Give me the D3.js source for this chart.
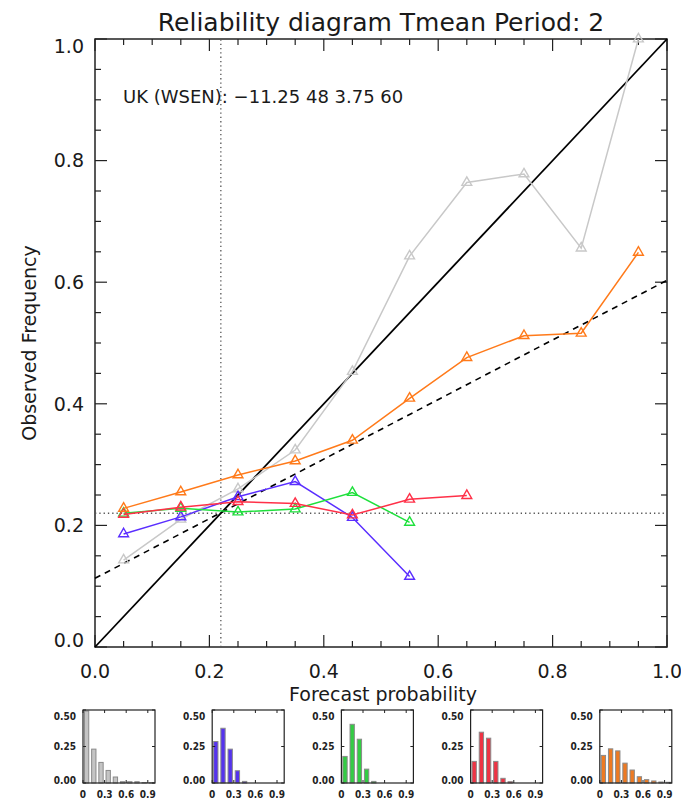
<!DOCTYPE html>
<html>
<head>
<meta charset="utf-8">
<script src="https://cdn.jsdelivr.net/npm/d3@7"></script>
<style>
  body { margin: 0; background: #fff; }
  svg { display: block; }
  text { font-family: "DejaVu Sans", sans-serif; fill: #1a1a1a; }
  .hlab { font-family: "DejaVu Sans Condensed", "DejaVu Sans", sans-serif; font-stretch: condensed; font-weight: bold; fill: #222; }
</style>
</head>
<body>
<svg id="chart" width="681" height="799"></svg>
<script>
// forecast probability bins (bin centres)
const probBins = [0.05, 0.15, 0.25, 0.35, 0.45, 0.55, 0.65, 0.75, 0.85, 0.95];

// observed frequency per bin, one array per curve
const greyObs = [0.143, 0.21, 0.26, 0.324, 0.453, 0.643, 0.764, 0.778, 0.656, 1.0];
const blueObs = [0.186, 0.214, 0.247, 0.272, 0.213, 0.116];
const greenObs = [0.22, 0.228, 0.222, 0.227, 0.254, 0.205];
const redObs = [0.218, 0.23, 0.239, 0.236, 0.217, 0.243, 0.249];
const orangeObs = [0.228, 0.255, 0.283, 0.306, 0.34, 0.409, 0.476, 0.512, 0.516, 0.649];

// sharpness histograms (relative frequency of forecasts per bin)
const greyHist = [0.493, 0.232, 0.141, 0.086, 0.041, 0.009, 0.009, 0.009, 0.003, 0.002];
const blueHist = [0.284, 0.375, 0.232, 0.084, 0.011, 0, 0, 0, 0, 0];
const greenHist = [0.182, 0.402, 0.3, 0.095, 0.011, 0, 0, 0, 0, 0];
const redHist = [0.148, 0.348, 0.307, 0.148, 0.032, 0.009, 0, 0, 0, 0];
const orangeHist = [0.189, 0.234, 0.22, 0.136, 0.089, 0.043, 0.023, 0.014, 0.007, 0.005];

const climatology = 0.22;
const perfectLine = [[0, 0], [1, 1]];
const fitLine = [[0, 0.113], [1, 0.603]];

const mainTicks = [0, 0.2, 0.4, 0.6, 0.8, 1.0];
const histXTicks = [0, 0.3, 0.6, 0.9];
const histYTicks = [0, 0.25, 0.5];

const titleText = "Reliability diagram Tmean Period: 2";
const regionText = "UK (WSEN): \u221211.25 48 3.75 60";

const series = [
  { obs: greyObs, hist: greyHist, line: "#c8c8c8", fill: "#c4c4c4" },
  { obs: blueObs, hist: blueHist, line: "#5a2eff", fill: "#5533ee" },
  { obs: greenObs, hist: greenHist, line: "#1ee03c", fill: "#33cc44" },
  { obs: redObs, hist: redHist, line: "#ff3048", fill: "#ee3344" },
  { obs: orangeObs, hist: orangeHist, line: "#ff7a1a", fill: "#ee7a22" }
];

const svg = d3.select("#chart");

// main plot box
const px0 = 95, px1 = 667, pyTop = 39, pyBot = 647;
const x = d3.scaleLinear().domain([0, 1]).range([px0, px1]);
const y = d3.scaleLinear().domain([0, 1]).range([pyBot, pyTop]);

const g = svg.append("g");

// title + region
svg.append("text")
  .attr("x", (px0 + px1) / 2).attr("y", 31)
  .attr("text-anchor", "middle")
  .attr("font-size", "25px")
  .text(titleText);

g.append("text")
  .attr("x", 123).attr("y", 103)
  .attr("font-size", "18px")
  .text(regionText);

// box
g.append("rect")
  .attr("x", px0).attr("y", pyTop)
  .attr("width", px1 - px0).attr("height", pyBot - pyTop)
  .attr("fill", "none").attr("stroke", "#222").attr("stroke-width", 1.5);

// ticks on all four sides, minor every 0.05
const allTicks = d3.range(0, 1.0001, 0.05);
const isMajor = (t) => Math.abs(t * 5 - Math.round(t * 5)) < 1e-6;
const tickLen = (t) => (isMajor(t) ? 12 : 6);
const tk = g.append("g").attr("stroke", "#222").attr("stroke-width", 1.2);
allTicks.forEach((t) => {
  tk.append("line").attr("x1", x(t)).attr("x2", x(t)).attr("y1", pyBot).attr("y2", pyBot - tickLen(t));
  tk.append("line").attr("x1", x(t)).attr("x2", x(t)).attr("y1", pyTop).attr("y2", pyTop + tickLen(t));
  tk.append("line").attr("y1", y(t)).attr("y2", y(t)).attr("x1", px0).attr("x2", px0 + tickLen(t));
  tk.append("line").attr("y1", y(t)).attr("y2", y(t)).attr("x1", px1).attr("x2", px1 - tickLen(t));
});

// tick labels
g.selectAll(".xlab").data(mainTicks).enter().append("text")
  .attr("class", "xlab")
  .attr("x", (d) => x(d)).attr("y", 678)
  .attr("text-anchor", "middle").attr("font-size", "19px")
  .text((d) => d3.format(".1f")(d));

g.selectAll(".ylab").data(mainTicks).enter().append("text")
  .attr("class", "ylab")
  .attr("x", 84)
  .attr("y", (d) => Math.max(pyTop + 7, Math.min(pyBot - 7, y(d))))
  .attr("dy", "0.36em")
  .attr("text-anchor", "end").attr("font-size", "19px")
  .text((d) => d3.format(".1f")(d));

// axis titles
g.append("text")
  .attr("x", (px0 + px1) / 2 + 2).attr("y", 701)
  .attr("text-anchor", "middle").attr("font-size", "19px")
  .text("Forecast probability");

g.append("text")
  .attr("transform", `translate(36,${(pyTop + pyBot) / 2}) rotate(-90)`)
  .attr("text-anchor", "middle").attr("font-size", "19px")
  .text("Observed Frequency");

// climatology dotted lines
g.append("line")
  .attr("x1", x(climatology)).attr("x2", x(climatology))
  .attr("y1", pyBot).attr("y2", pyTop)
  .attr("stroke", "#555").attr("stroke-width", 1.3).attr("stroke-dasharray", "1.3,3");
g.append("line")
  .attr("x1", px0).attr("x2", px1)
  .attr("y1", y(climatology)).attr("y2", y(climatology))
  .attr("stroke", "#555").attr("stroke-width", 1.3).attr("stroke-dasharray", "1.3,3");

const line = d3.line().x((d) => x(d[0])).y((d) => y(d[1]));

// perfect reliability + fitted line
g.append("path").attr("d", line(perfectLine))
  .attr("fill", "none").attr("stroke", "#000").attr("stroke-width", 1.8);
g.append("path").attr("d", line(fitLine))
  .attr("fill", "none").attr("stroke", "#000").attr("stroke-width", 1.6)
  .attr("stroke-dasharray", "6,5");

// reliability curves
const tri = d3.symbol().type(d3.symbolTriangle).size(42);
series.forEach((s) => {
  const pts = s.obs.map((v, i) => [probBins[i], v]);
  g.append("path").attr("d", line(pts))
    .attr("fill", "none").attr("stroke", s.line).attr("stroke-width", 1.5);
  g.append("g").selectAll("path").data(pts).enter().append("path")
    .attr("d", tri)
    .attr("transform", (d) => `translate(${x(d[0])},${y(d[1])})`)
    .attr("fill", "none").attr("stroke", s.line).attr("stroke-width", 1.4);
});

// sharpness histograms
const hTop = 710, hBot = 783, hW = 72;
const hy = d3.scaleLinear().domain([0, 0.5]).range([hBot, hTop]);
series.forEach((s, k) => {
  const left = 83 + k * 129.2;
  const hx = d3.scaleLinear().domain([0, 1]).range([left, left + hW]);
  const hg = svg.append("g");
  const bw = hx(0.06) - hx(0);
  hg.selectAll("rect").data(s.hist.map((v, i) => [probBins[i], v]).filter((d) => d[1] > 0))
    .enter().append("rect")
    .attr("x", (d) => hx(d[0]) - bw / 2).attr("width", bw)
    .attr("y", (d) => hy(d[1])).attr("height", (d) => hBot - hy(d[1]))
    .attr("fill", s.fill).attr("stroke", "#8a8a8a").attr("stroke-width", 1);
  hg.append("rect")
    .attr("x", left).attr("y", hTop).attr("width", hW).attr("height", hBot - hTop)
    .attr("fill", "none").attr("stroke", "#222").attr("stroke-width", 1.2);
  histXTicks.forEach((t) => {
    hg.append("line").attr("x1", hx(t)).attr("x2", hx(t)).attr("y1", hBot).attr("y2", hBot - 3).attr("stroke", "#222");
    hg.append("line").attr("x1", hx(t)).attr("x2", hx(t)).attr("y1", hTop).attr("y2", hTop + 3).attr("stroke", "#222");
  });
  histYTicks.forEach((t) => {
    hg.append("line").attr("y1", hy(t)).attr("y2", hy(t)).attr("x1", left).attr("x2", left + 3).attr("stroke", "#222");
    hg.append("line").attr("y1", hy(t)).attr("y2", hy(t)).attr("x1", left + hW).attr("x2", left + hW - 3).attr("stroke", "#222");
  });
  hg.selectAll(".hyl").data(histYTicks).enter().append("text")
    .attr("class", "hlab")
    .attr("x", left - 7)
    .attr("y", (d) => Math.max(hTop + 6, Math.min(hBot - 3, hy(d))))
    .attr("dy", "0.36em")
    .attr("text-anchor", "end").attr("font-size", "10px")
    .text((d) => d3.format(".2f")(d));
  hg.selectAll(".hxl").data(histXTicks).enter().append("text")
    .attr("class", "hlab")
    .attr("x", (d) => hx(d)).attr("y", 798)
    .attr("text-anchor", "middle").attr("font-size", "10px")
    .text((d) => (d === 0 ? "0" : d3.format(".1f")(d)));
});
</script>
</body>
</html>
